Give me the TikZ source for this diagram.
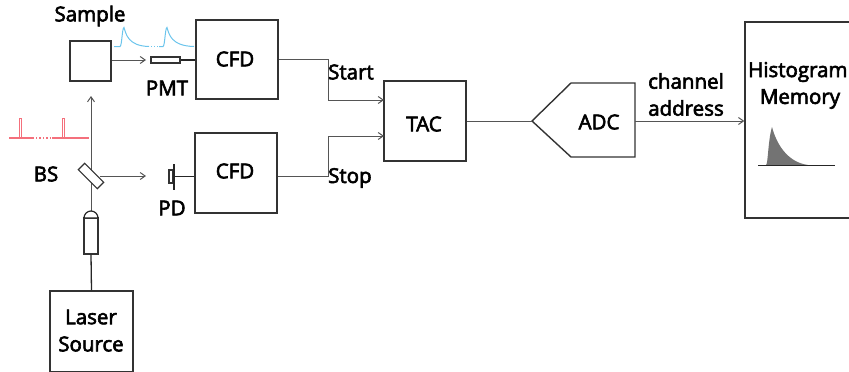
\documentclass[tikz,border=0pt]{standalone}
\usepackage{fontspec}
\setmainfont{Open Sans}
\newfontfamily\labfont[FakeBold=3]{Open Sans}
\usetikzlibrary{arrows.meta}
\definecolor{ink}{HTML}{333333}
\definecolor{wire}{HTML}{555555}
\definecolor{pulse}{HTML}{F4707C}
\definecolor{decay}{HTML}{6CC5EC}
\tikzset{
  x=1pt,y=-1pt,
  blockbox/.style={draw=ink,line width=1.4pt,inner sep=0pt,fill=white},
  wirearrow/.style={draw=wire,line width=1pt,-{Straight Barb[length=5pt,width=7pt,line width=1pt]}},
  wireline/.style={draw=wire,line width=1pt},
  darkline/.style={draw=black!85,line width=1.3pt},
  pulseline/.style={draw=pulse,line width=0.9pt},
  pulsebase/.style={draw=pulse,line width=1.4pt},
  lab/.style={font=\labfont\fontsize{20.5}{24}\selectfont,text=black,inner sep=0pt,align=center},
}
\begin{document}
\begin{tikzpicture}
\useasboundingbox (0,0) rectangle (849,372);
\clip (0,0) rectangle (849,372);
% blocks
\node[blockbox,minimum width=41pt,minimum height=40pt] (sample) at (90.5,61) {};
\node[blockbox,minimum width=82pt,minimum height=79pt] (cfdA) at (237,59.5) {};
\node[blockbox,minimum width=82pt,minimum height=80pt] (cfdB) at (236,173) {};
\node[blockbox,minimum width=82pt,minimum height=80pt] (tac) at (425,121) {};
\node[blockbox,minimum width=83pt,minimum height=81pt] (laser) at (91.5,331.5) {};
\node[blockbox,minimum width=120pt,minimum height=196pt] (hist) at (805,120) {};
\node[blockbox,minimum width=29pt,minimum height=6pt,line width=1.1pt] (pmt) at (165.5,60) {};
\node[blockbox,minimum width=4pt,minimum height=13pt,line width=1.1pt] (pd) at (171,176.5) {};
% ADC
\coordinate (adcTip) at (532,121);
\coordinate (adcOut) at (635,121);
\draw[ink,line width=1.4pt,line join=miter] (adcTip) -- (571,83) -- (635,83) -- (635,157) -- (571,157) -- cycle;
% connectors
\coordinate (upTip) at (91,96);
\coordinate (pmtTip) at (146,60);
\coordinate (pdTip) at (146,176);
\coordinate (startCornerA) at (328,59.5);
\coordinate (startCornerB) at (328,100);
\coordinate (stopCornerA) at (328,176);
\coordinate (stopCornerB) at (328,136);
\coordinate (tacStart) at (384,100);
\coordinate (tacStop) at (384,136);
\coordinate (tubeTop) at (91,212);
\draw[wirearrow] (tubeTop) -- (upTip);
% tube with dome
\node[blockbox,minimum width=14pt,minimum height=36pt,line width=1.2pt] (tube) at (91,236) {};
\draw[black!85,line width=1.2pt,fill=white] (84,218) arc[start angle=180,end angle=0,radius=7pt] -- cycle;
% beam splitter
\node[blockbox,minimum width=27pt,minimum height=9pt,rotate=-45,line width=1.2pt] (bs) at (91,176) {};
\coordinate (bsOut) at (100,176);
\draw[wirearrow] (sample.east |- pmtTip) -- (pmtTip);
\draw[wirearrow] (bsOut) -- (pdTip);
\draw[darkline] (pmt.east) -- (cfdA.west |- pmt.east);
\draw[darkline,line width=1.1pt] (pd.east) -- (cfdB.west |- pd.east);
\draw[black!85,line width=1.3pt] (174,164) -- (174,190);
\draw[darkline] (tube.south) -- (laser.north);
\draw[wireline] (cfdA.east) -- (startCornerA) -- (startCornerB);
\draw[wirearrow] (startCornerB) -- (tacStart);
\draw[wireline] (cfdB.east |- stopCornerA) -- (stopCornerA) -- (stopCornerB);
\draw[wirearrow] (stopCornerB) -- (tacStop);
\draw[wireline] (tac.east |- adcTip) -- (adcTip);
\draw[wirearrow] (adcOut) -- (hist.west |- adcOut);
% pulses
\draw[pulsebase] (9,138) -- (34,138);
\draw[pulsebase,dotted] (36,138) -- (51,138);
\draw[pulsebase] (52,138) -- (89,138);
\draw[pulseline] (19,138) -- (19,118.5) -- (21.5,118.5) -- (21.5,138);
\draw[pulseline] (62,138) -- (62,118.5) -- (64.5,118.5) -- (64.5,138);
% decays
\draw[decay,line width=1pt] (114,46.5) -- (120,46.5) .. controls (122,46) and (122,28) .. (124,27.5) .. controls (126,34) and (128,46) .. (149,46.5);
\draw[decay,line width=1pt,dotted] (151,46.5) -- (158,46.5);
\draw[decay,line width=1pt] (159,46.5) -- (163,46.5) .. controls (165,46) and (165,28) .. (167,27.5) .. controls (169,34) and (171,46) .. (194,46.5);
% histogram
\fill[black!55] (766,165) .. controls (768,165) and (768,140) .. (772,127) .. controls (776,142) and (786,162) .. (808,165) -- cycle;
\draw[black!85,line width=1.1pt] (758,165.5) -- (835,165.5);
% labels
\node[lab] (tSample) at (90,16) {Sample};
\node[lab] (tPMT) at (167,88) {PMT};
\node[lab] (tBS) at (46,174) {BS};
\node[lab] (tPD) at (172,208) {PD};
\node[lab] (tCFDa) at (235,59) {CFD};
\node[lab] (tCFDb) at (235,171) {CFD};
\node[lab] (tTAC) at (424,124) {TAC};
\node[lab] (tADC) at (599,122) {ADC};
\node[lab,anchor=west] (tStart) at (328,72) {Start};
\node[lab,anchor=west] (tStop) at (328,178) {Stop};
\node[lab] (tChan) at (686,81) {channel};
\node[lab] (tAddr) at (686,108) {address};
\node[lab,anchor=west] (tHist) at (748,72) {Histogram};
\node[lab] (tMem) at (800,99) {Memory};
\node[lab] (tLa) at (91,317) {Laser};
\node[lab] (tSo) at (91,344) {Source};
\end{tikzpicture}
\end{document}
